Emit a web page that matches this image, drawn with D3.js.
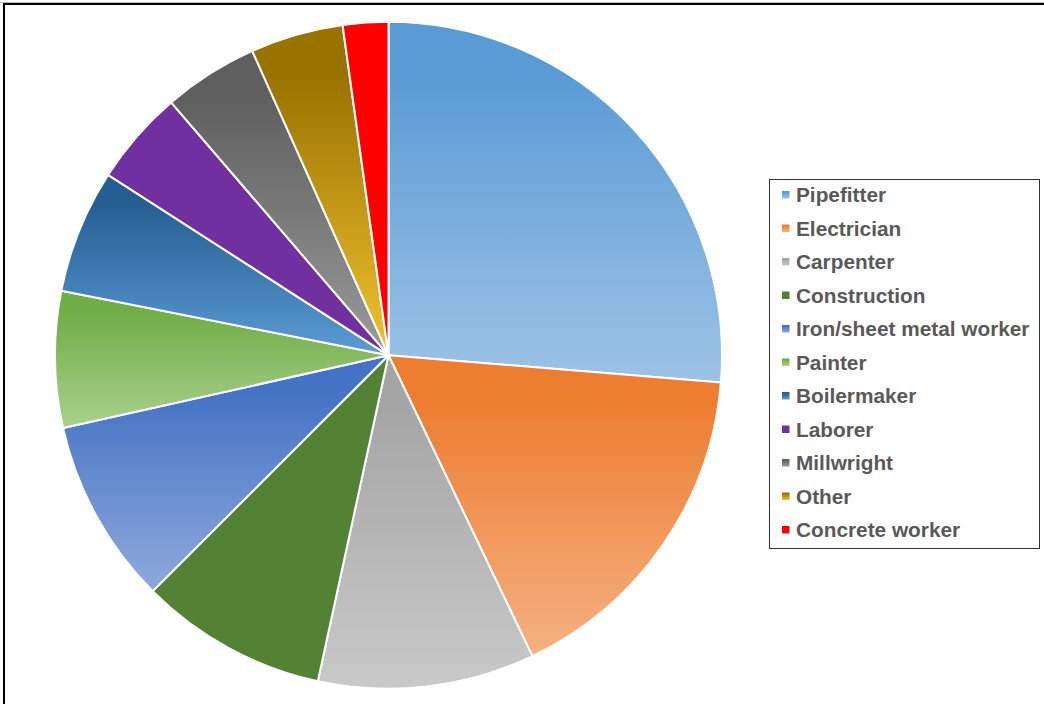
<!DOCTYPE html>
<html><head><meta charset="utf-8">
<script src="https://cdn.jsdelivr.net/npm/d3@7"></script>
<style>body{margin:0;background:#fff;}svg{display:block;}</style>
</head><body>
<svg id="chart" width="1044" height="704"></svg>
<script>
const categories = ["Pipefitter","Electrician","Carpenter","Construction","Iron/sheet metal worker","Painter","Boilermaker","Laborer","Millwright","Other","Concrete worker"];
const values = [26.3,16.6,10.5,9.1,9.0,6.6,6.0,4.6,4.6,4.5,2.2];
const topColors = ["#5b9bd5","#ed7d31","#a5a5a5","#548235","#4472c4","#70ad47","#255e91","#7030a0","#5f5f5f","#997300","#ff0000"];
const bottomColors = ["#9dc3e6","#f4b183","#c9c9c9","#548235","#8faadc","#a9d18e","#5b9bd5","#7030a0","#9a9a9a","#f2c230","#ff0000"];

const svg = d3.select("#chart");
const W = 1044, H = 704;

// frame
svg.append("line").attr("x1",0).attr("x2",W).attr("y1",2.5).attr("y2",2.5).attr("stroke","#bbb").attr("stroke-width",1);
svg.append("line").attr("x1",3).attr("x2",W).attr("y1",4).attr("y2",4).attr("stroke","#000").attr("stroke-width",2);
svg.append("line").attr("x1",4).attr("x2",4).attr("y1",3).attr("y2",H).attr("stroke","#000").attr("stroke-width",2);

const defs = svg.append("defs");
categories.forEach((c,i)=>{
  const g = defs.append("linearGradient").attr("id","grad"+i)
    .attr("x1",0).attr("y1",0).attr("x2",0).attr("y2",1);
  g.append("stop").attr("offset","0%").attr("stop-color",topColors[i]);
  g.append("stop").attr("offset","15%").attr("stop-color",topColors[i]);
  g.append("stop").attr("offset","100%").attr("stop-color",bottomColors[i]);
});

const cx = 388.5, cy = 355.3, R = 333.5;
const pie = d3.pie().sort(null).value(d=>d.v);
const data = pie(categories.map((c,i)=>({c, v: values[i], i})));
const arc = d3.arc().innerRadius(0).outerRadius(R);

svg.append("g").attr("transform",`translate(${cx},${cy})`)
  .selectAll("path").data(data).enter().append("path")
  .attr("d",arc)
  .attr("fill",d=>`url(#grad${d.data.i})`)
  .attr("stroke","#fff").attr("stroke-width",2).attr("stroke-linejoin","round");

// legend
const lx = 769, ly = 179, lw = 270, lh = 369;
const lg = svg.append("g");
lg.append("rect").attr("x",lx+0.5).attr("y",ly+0.5).attr("width",lw).attr("height",lh)
  .attr("fill","#fff").attr("stroke","#333").attr("stroke-width",1);
const step = 33.5;
const items = lg.selectAll("g.item").data(categories).enter().append("g")
  .attr("transform",(d,i)=>`translate(${lx},${ly+16+i*step})`);
items.append("rect").attr("x",13).attr("y",-4).attr("width",7.5).attr("height",7.5)
  .attr("fill",(d,i)=>`url(#grad${i})`);
items.append("text").attr("x",27).attr("y",0).attr("dy","0.35em")
  .attr("font-family","'Liberation Sans', Arial, sans-serif")
  .attr("font-weight","bold").attr("font-size","20.8px").attr("fill","#595959")
  .text(d=>d);
</script>
</body></html>
